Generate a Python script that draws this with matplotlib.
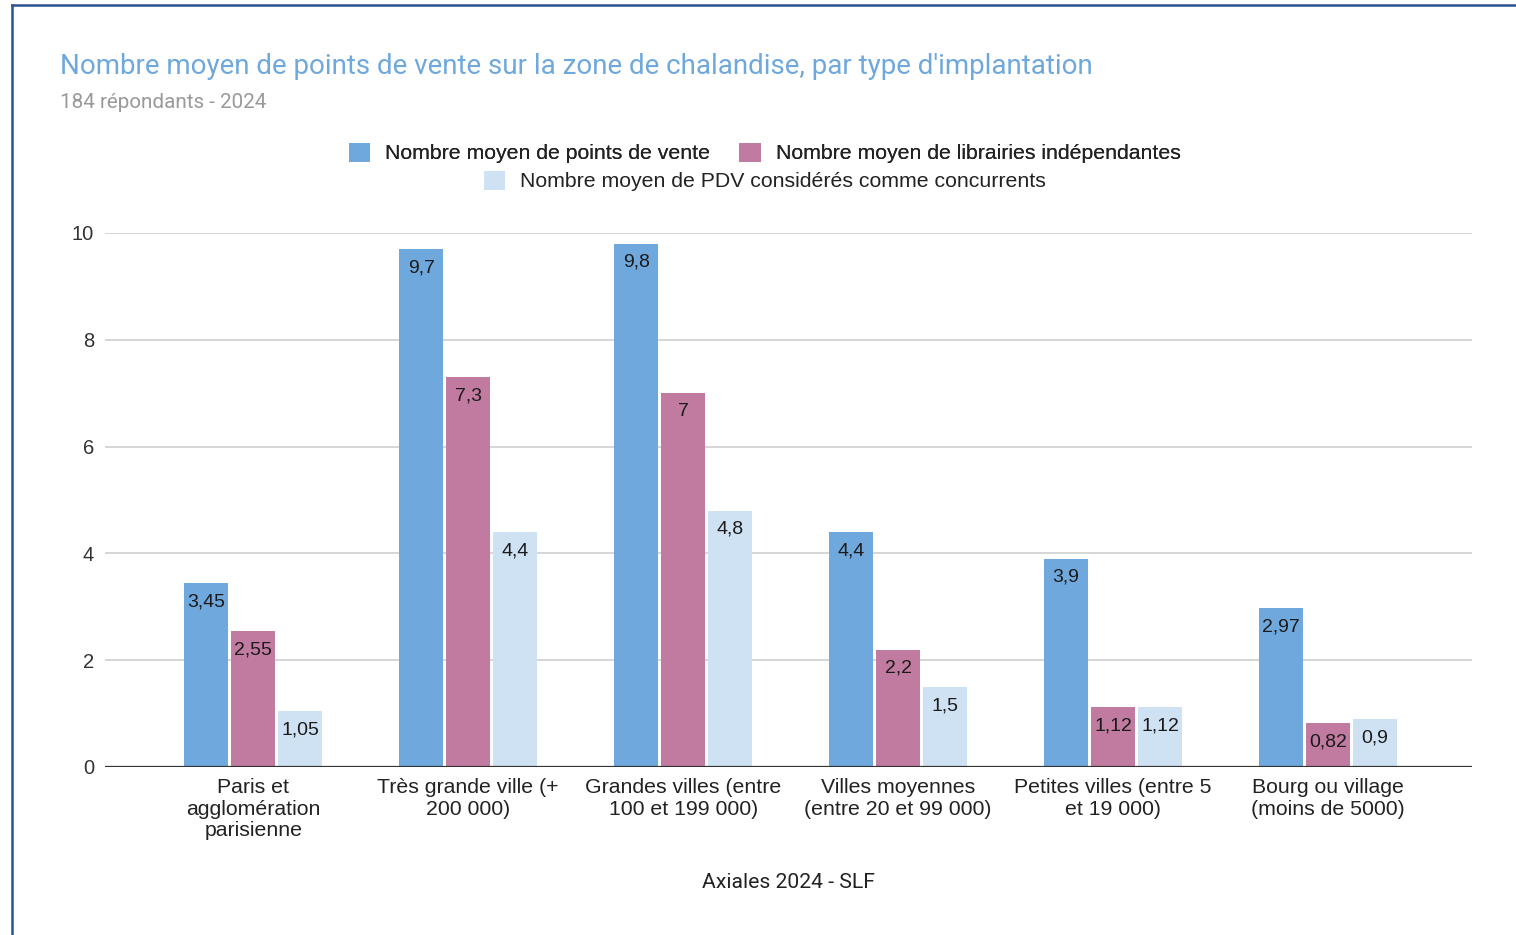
import numpy as np
import matplotlib
matplotlib.use("Agg")
import matplotlib.pyplot as plt
from matplotlib.patches import Patch
from matplotlib.lines import Line2D

# data
categories = [
    "Paris et\nagglomération\nparisienne",
    "Très grande ville (+\n200 000)",
    "Grandes villes (entre\n100 et 199 000)",
    "Villes moyennes\n(entre 20 et 99 000)",
    "Petites villes (entre 5\net 19 000)",
    "Bourg ou village\n(moins de 5000)",
]
series_names = [
    "Nombre moyen de points de vente",
    "Nombre moyen de librairies indépendantes",
    "Nombre moyen de PDV considérés comme concurrents",
]
points_vente = [3.45, 9.7, 9.8, 4.4, 3.9, 2.97]
librairies = [2.55, 7.3, 7.0, 2.2, 1.12, 0.82]
concurrents = [1.05, 4.4, 4.8, 1.5, 1.12, 0.9]
colors = ["#6fa8dc", "#c27ba0", "#cfe2f3"]
yticks = [0, 2, 4, 6, 8, 10]

plt.rcParams["font.family"] = ["Liberation Sans", "DejaVu Sans"]

W, H = 1516, 935
fig = plt.figure(figsize=(W / 100, H / 100), dpi=100, facecolor="white")

# frame of the screenshot (left and top edges only)
fig.add_artist(Line2D([12 / W, 12 / W], [0, 1 - 5 / H], color="#2b5291", lw=1.8))
fig.add_artist(Line2D([12 / W, 1], [1 - 5 / H, 1 - 5 / H], color="#2b5291", lw=1.8))

ax = fig.add_axes([105 / W, 1 - 767 / H, (1472 - 105) / W, (767 - 233) / H])
ax.set_xlim(-0.69, 5.67)
ax.set_ylim(0, 10)

x = np.arange(len(categories))
width = 0.205
step = 0.219
all_series = [points_vente, librairies, concurrents]
for i, vals in enumerate(all_series):
    pos = x + (i - 1) * step
    bars = ax.bar(pos, vals, width, color=colors[i], zorder=3)
    for b, v in zip(bars, vals):
        lbl = f"{v:g}".replace(".", ",")
        ax.annotate(lbl, (b.get_x() + b.get_width() / 2, v), xytext=(0, -13.5),
                    textcoords="offset points", ha="center", va="center",
                    fontsize=14, color="#1a1a1a", zorder=4)

ax.set_yticks(yticks)
ax.set_yticklabels([str(t) for t in yticks], fontsize=14.5, color="#333333")
ax.set_xticks(x)
ax.set_xticklabels(categories, fontsize=15.3, color="#222222", linespacing=1.16)
ax.tick_params(axis="both", length=0)
ax.tick_params(axis="y", pad=8)
ax.tick_params(axis="x", pad=8)
ax.yaxis.grid(True, color="#d0d0d0", lw=1.2, zorder=0)
for s in ax.spines.values():
    s.set_visible(False)
ax.axhline(0, color="#333333", lw=1.6, zorder=5)

# title and subtitle
fig.text(60 / W, 1 - 67 / H, "Nombre moyen de points de vente sur la zone de chalandise, par type d'implantation",
         fontsize=20, color="#6fa8dc", family=["Roboto", "DejaVu Sans"], ha="left", va="center")
fig.text(60 / W, 1 - 102 / H, "184 répondants - 2024",
         fontsize=14.9, color="#999999", family=["Roboto", "DejaVu Sans"], ha="left", va="center")

# legend, two centred rows
handles = [Patch(facecolor=c, edgecolor="none") for c in colors]
leg_kw = dict(loc="center", frameon=False, fontsize=15.3, handlelength=1.0, handleheight=1.0,
              handletextpad=0.7, columnspacing=1.4, labelcolor="#222222")
leg1 = fig.legend(handles[:2], series_names[:2], ncol=2,
                  bbox_to_anchor=(764.5 / W, 1 - 153 / H), **leg_kw)
fig.add_artist(leg1)
fig.legend(handles[2:], series_names[2:], ncol=1,
           bbox_to_anchor=(764.5 / W, 1 - 181 / H), **leg_kw)

fig.text(789 / W, 1 - 882 / H, "Axiales 2024 - SLF", fontsize=15.2, color="#222222",
         family=["Roboto", "DejaVu Sans"], ha="center", va="center")

fig.savefig("out.png", dpi=100)
